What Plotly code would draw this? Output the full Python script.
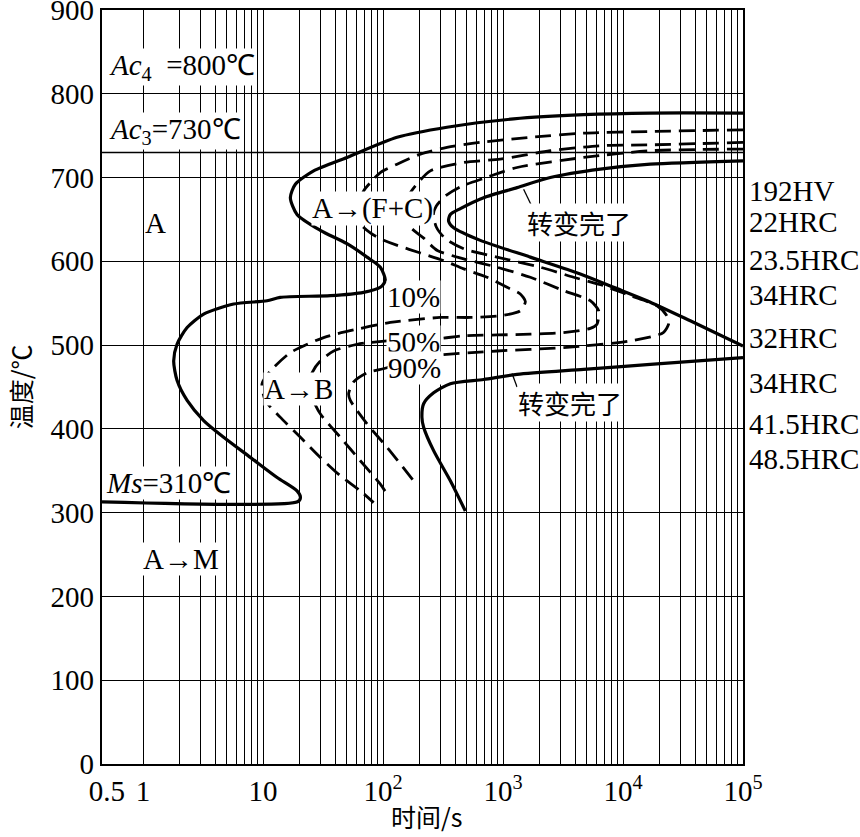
import math
import plotly.graph_objects as go

# time in s, temperature in degC

# transformation start (solid, outer C-curve incl. Ms line)
start_t = [1e5, 16880, 4695, 1225, 341, 131, 50.1, 26.4, 18.6, 16.9, 19.2, 30.0, 50.1, 73.6, 95, 104.5,
           95, 68.9, 36.4, 13.9, 10.8, 5.69, 3.20, 2.33, 1.92, 1.80, 1.92, 2.33, 3.20, 4.70, 7.84, 13.1,
           19.2, 20.5, 19.4, 0.455]
start_T = [777, 777, 775, 770, 760, 748, 724, 708, 692, 676, 656, 637, 621, 605, 593, 577,
           569, 563, 559, 557, 553, 549, 537, 521, 501, 481, 458, 434, 410, 390, 366, 342,
           326, 318, 313, 313]

# transformation complete, upper (pearlite) curve
finish_t = [1e5, 16880, 6470, 2478, 1309, 689, 441, 364, 352, 388, 647, 1689, 4406, 8350, 15850, 36370, 1e5]
finish_T = [720, 716, 710, 700, 688, 676, 663, 656, 648, 640, 625, 605, 585, 569, 553, 529, 499]

# transformation complete, lower (bainite) curve
bfinish_t = [1e5, 16880, 4695, 1309, 689, 364, 264, 218, 211, 218, 264, 364, 485]
bfinish_T = [485, 477, 471, 465, 459, 454, 443, 430, 414, 402, 374, 338, 302]

# 10 % transformed
p10_t = [1e5, 16880, 4695, 1689, 647, 341, 205, 131, 95, 78.4, 68.9, 61.1, 64.7, 78.4, 95, 131.6, 205,
         318, 470, 736, 1080, 1393, 1535, 1393, 950, 534, 300, 115, 60.7, 32.0, 16.9, 11.5, 9.81,
         10.45, 13.9, 20.5, 30.0, 44.1, 64.7, 83.5]
p10_T = [757, 755, 753, 748, 742, 736, 728, 716, 706, 694, 684, 664, 645, 634, 627, 619, 610,
         601, 591, 581, 569, 561, 552, 541, 535, 533, 533, 527, 519, 509, 491, 469, 454,
         434, 414, 390, 366, 344, 326, 312]

# 50 % transformed
p50_t = [1e5, 16880, 6470, 2478, 950, 467, 248, 186, 159, 153, 169, 217, 283.5, 470, 891, 1689, 3199,
         5339, 6263, 6070, 5339, 3181, 1689, 467, 300, 108, 60.7, 38.8, 30.0, 25.6, 23.8, 25.8,
         30.0, 44.1, 64.7, 95, 108]
p50_T = [742, 739, 738, 732, 722, 718, 708, 690, 675, 658, 641, 628, 613, 603, 593, 581, 565,
         553, 541, 525, 520, 515, 513, 511, 508, 505, 501, 493, 481, 467, 452, 436,
         418, 390, 362, 334, 322]

# 90 % transformed
p90_t = [1e5, 16880, 4695, 1309, 689, 441, 331, 278, 262.6, 278, 331, 470, 891, 2046, 3875, 6890,
         11510, 19200, 22950, 24080, 21670, 11510, 3199, 891, 248, 139, 108, 73.6, 56.9, 51.7,
         53.4, 73.6, 108, 180]
p90_T = [734, 732, 724, 712, 699, 689, 678, 666, 656, 641, 627, 615, 605, 593, 581, 571,
         559, 547, 536, 526, 515, 505, 497, 493, 487, 479, 473, 467, 456, 442,
         434, 406, 378, 338]

# leader lines of the two "转变完了" labels
lead1_t = [1485, 1858]
lead1_T = [686, 657]
lead2_t = [1189, 1309]
lead2_T = [466, 450]

AC4 = 800
AC3 = 730
MS = 310

hardness = ["192HV", "22HRC", "23.5HRC", "34HRC", "32HRC", "34HRC", "41.5HRC", "48.5HRC"]
hardness_T = [684, 647, 602, 560, 509, 455, 406, 364]

x_ticks = [0.5, 1, 10, 100, 1e3, 1e4, 1e5]
x_ticktext = ["0.5", "1", "10", "10<sup>2</sup>", "10<sup>3</sup>", "10<sup>4</sup>", "10<sup>5</sup>"]
x_grid = [k * 10 ** n for n in range(0, 5) for k in range(1, 10)] + [1e5]

SERIF = "Liberation Serif, Times New Roman, serif"
CJK = "Noto Sans CJK SC, Liberation Serif"
FS = 29

fig = go.Figure()

solid = dict(color="black", width=3.2)
dashed = dict(color="black", width=2.8, dash="16px,8px")
for t, T, ln in [(start_t, start_T, solid), (finish_t, finish_T, solid), (bfinish_t, bfinish_T, solid),
                 (p10_t, p10_T, dashed), (p50_t, p50_T, dashed), (p90_t, p90_T, dashed)]:
    fig.add_trace(go.Scatter(x=t, y=T, mode="lines", line=dict(shape="spline", smoothing=0.7, **ln),
                             hoverinfo="skip"))
for t, T in [(lead1_t, lead1_T), (lead2_t, lead2_T)]:
    fig.add_trace(go.Scatter(x=t, y=T, mode="lines", line=dict(color="black", width=1.3), hoverinfo="skip"))

fig.add_hline(y=AC3, line_color="black", line_width=1.5)


def label(text, t, T, font=SERIF, xanchor="center", bg="white", size=FS):
    fig.add_annotation(x=math.log10(t), y=T, text=text, showarrow=False, xanchor=xanchor,
                       bgcolor=bg, borderpad=0, font=dict(family=font, size=size, color="black"))


label("<i>Ac</i><sub>4</sub>  =%d℃" % AC4, 0.51, 832, xanchor="left")
label("<i>Ac</i><sub>3</sub>=%d℃" % AC3, 0.51, 756, xanchor="left")
label("A", 1.27, 646, bg=None)
label("A→(F+C)", 81.4, 663)
label("10%", 179, 557)
label("50%", 179, 504)
label("90%", 182, 473)
label("A→B", 19.7, 448)
label("转变完了", 4325, 646, font=CJK, size=26)
label("转变完了", 3650, 431, font=CJK, size=26)
label("<i>Ms</i>=%d℃" % MS, 1.63, 336)
label("A→M", 2.08, 245)

for txt, T in zip(hardness, hardness_T):
    fig.add_annotation(xref="paper", x=1.006, y=T, text=txt, showarrow=False, xanchor="left",
                       font=dict(family=SERIF, size=FS, color="black"))

fig.add_annotation(xref="paper", yref="paper", x=0.5075, y=-0.0686, yanchor="middle", text="时间/s",
                   showarrow=False, font=dict(family=CJK, size=25, color="black"))
fig.add_annotation(xref="paper", yref="paper", x=-0.1275, y=0.50, xanchor="center", yanchor="middle",
                   text="温度/℃", showarrow=False, textangle=-90,
                   font=dict(family=CJK, size=25, color="black"))

fig.update_xaxes(type="log", range=[math.log10(0.455), 5], tickmode="array", tickvals=x_ticks,
                 ticktext=x_ticktext, showgrid=False, ticks="", zeroline=False, automargin=False,
                 ticklabeloverflow="allow",
                 minor=dict(tickmode="array", tickvals=x_grid, showgrid=True, gridcolor="black",
                            gridwidth=1.4, ticks=""),
                 showline=True, mirror=True, linecolor="black", linewidth=2.2,
                 tickfont=dict(family=SERIF, size=FS, color="black"))
fig.update_yaxes(range=[0, 900], dtick=100, showgrid=True, gridcolor="black", gridwidth=1.4, ticks="",
                 zeroline=False, showline=True, mirror=True, linecolor="black", linewidth=2.2,
                 automargin=False, ticklabeloverflow="allow",
                 tickfont=dict(family=SERIF, size=FS, color="black"))

fig.update_layout(width=860, height=837, margin=dict(l=102, r=117, t=10, b=73),
                  paper_bgcolor="white", plot_bgcolor="white", showlegend=False)

# drop the default 8px page margin so the figure fills the window
fig.write_html("out.html", config={"displayModeBar": False},
               post_script="document.body.style.margin = '0px';")
